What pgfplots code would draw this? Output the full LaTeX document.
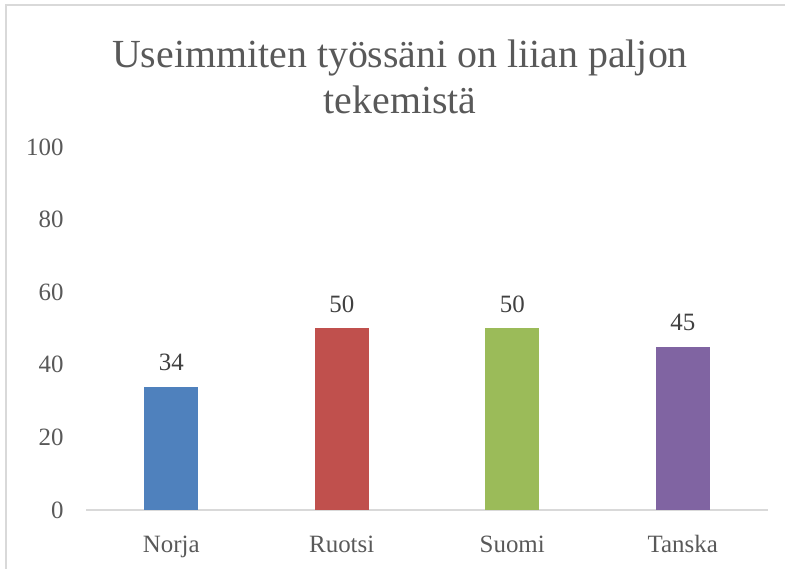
\documentclass[border=0pt]{standalone}
\usepackage{fontspec}
\setmainfont{Liberation Serif}
\usepackage{pgfplots}
\pgfplotsset{compat=1.18}
\definecolor{cblue}{HTML}{4F81BD}
\definecolor{cred}{HTML}{C0504D}
\definecolor{cgreen}{HTML}{9BBB59}
\definecolor{cpurple}{HTML}{8064A2}
\definecolor{txt}{HTML}{595959}
\definecolor{vtxt}{HTML}{404040}
\definecolor{frame}{HTML}{D9D9D9}
\begin{document}
\begin{tikzpicture}[x=1bp,y=1bp]
\path[use as bounding box] (0,0) rectangle (785,569);
\draw[frame, line width=2bp] (6,0) -- (6,564) -- (785,564);
\node[txt, font=\fontsize{40}{46}\selectfont, align=center] at (400,492) {Useimmiten työssäni on liian paljon\\tekemistä};
\begin{axis}[
  at={(86bp,59bp)}, anchor=south west,
  scale only axis, width=682bp, height=363bp,
  xmin=-0.5, xmax=3.5, ymin=0, ymax=100,
  axis x line*=bottom, axis y line*=left,
  x axis line style={draw=frame, line width=1.5bp, -},
  y axis line style={draw=none},
  major tick length=0pt,
  ytick={0,20,40,60,80,100},
  xtick={0,1,2,3},
  xticklabels={Norja,Ruotsi,Suomi,Tanska},
  /pgf/number format/assume math mode=true,
  tick label style={txt, font=\fontsize{25}{29}\selectfont},
  yticklabel style={xshift=-19bp},
  xticklabel style={yshift=-22bp},
  bar width=54bp,
  nodes near coords,
  every node near coord/.append style={vtxt, font=\fontsize{25}{29}\selectfont, anchor=center, yshift=24bp},
]
\addplot[ybar, bar shift=0pt, fill=cblue, draw=none] coordinates {(0,34)};
\addplot[ybar, bar shift=0pt, fill=cred, draw=none] coordinates {(1,50)};
\addplot[ybar, bar shift=0pt, fill=cgreen, draw=none] coordinates {(2,50)};
\addplot[ybar, bar shift=0pt, fill=cpurple, draw=none] coordinates {(3,45)};
\end{axis}
\end{tikzpicture}
\end{document}
